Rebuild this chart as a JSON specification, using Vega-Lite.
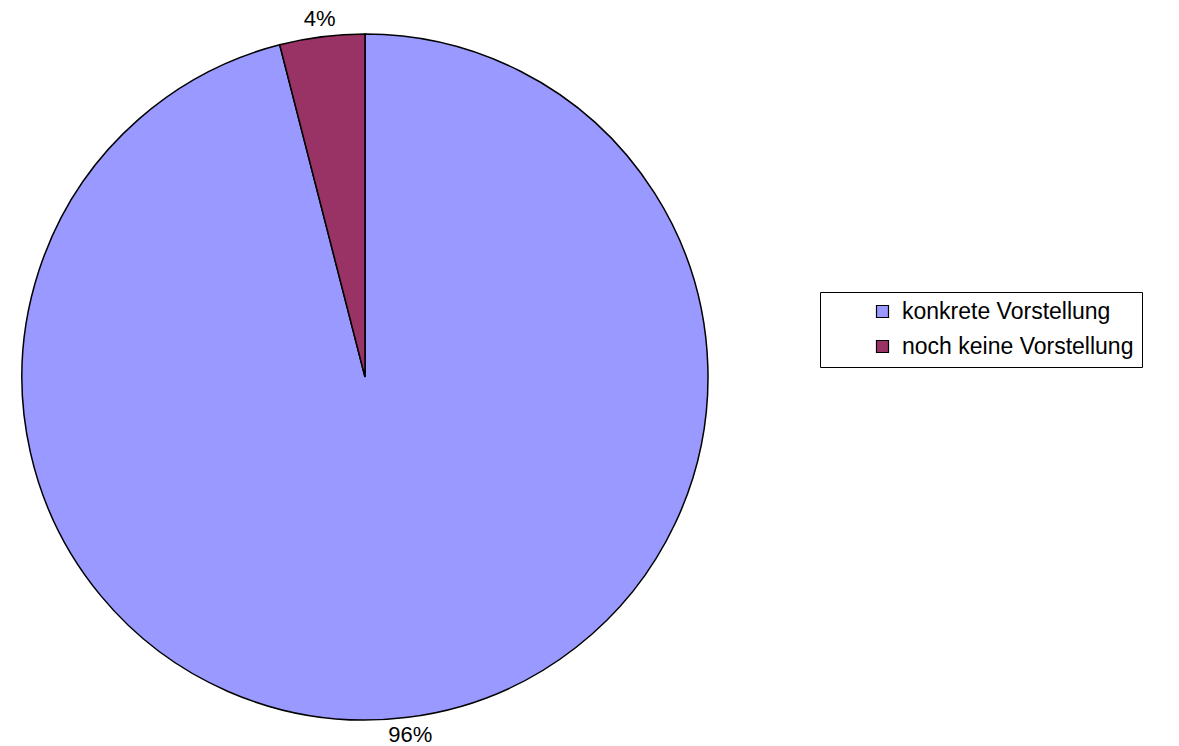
{
  "$schema": "https://vega.github.io/schema/vega-lite/v6.json",
  "width": 730,
  "height": 738,
  "autosize": {"type": "none"},
  "padding": {"left": 0, "top": 8, "right": 449, "bottom": 0},
  "background": "white",
  "config": {"view": {"stroke": null}},
  "data": {
    "values": [
      {"category": "konkrete Vorstellung", "share": 0.96},
      {"category": "noch keine Vorstellung", "share": 0.04}
    ]
  },
  "layer": [
    {
      "mark": {"type": "arc", "radius": 343, "stroke": "#000000", "strokeWidth": 1.5},
      "encoding": {
        "theta": {"field": "share", "type": "quantitative", "stack": true},
        "order": {"field": "category", "sort": "ascending"},
        "color": {
          "field": "category",
          "type": "nominal",
          "scale": {"domain": ["konkrete Vorstellung", "noch keine Vorstellung"], "range": ["#9999FF", "#993366"]},
          "legend": {
            "orient": "none",
            "legendX": 820,
            "legendY": 284,
            "title": "\u00a0",
            "titleOrient": "left",
            "titleFontSize": 8,
            "titlePadding": 43,
            "padding": 8,
            "fillColor": "white",
            "strokeColor": "#000000",
            "symbolType": "square",
            "symbolSize": 144,
            "symbolStrokeColor": "#000000",
            "symbolStrokeWidth": 1.2,
            "symbolOpacity": 1,
            "labelFont": "Liberation Sans",
            "labelFontSize": 23,
            "labelColor": "#000000",
            "labelOffset": 8,
            "labelLimit": 600,
            "rowPadding": 11,
            "labelExpr": "datum.label + '            '"
          }
        }
      }
    },
    {
      "mark": {"type": "text", "radius": 361, "font": "Liberation Sans", "fontSize": 22, "fill": "#000000", "align": "center", "baseline": "middle"},
      "encoding": {
        "theta": {"field": "share", "type": "quantitative", "stack": true},
        "order": {"field": "category", "sort": "ascending"},
        "detail": {"field": "category", "type": "nominal"},
        "text": {"field": "share", "type": "quantitative", "format": ".0%"}
      }
    }
  ]
}
